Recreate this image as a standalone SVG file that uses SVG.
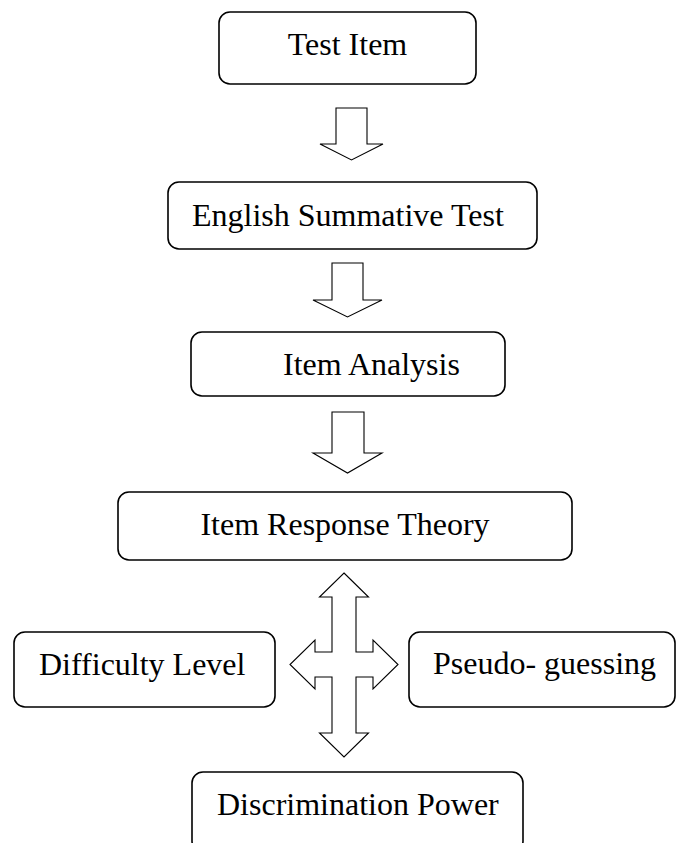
<svg xmlns="http://www.w3.org/2000/svg" width="676" height="843" viewBox="0 0 676 843">
<style>
.box{fill:#fff;stroke:#000;stroke-width:1.6}
.arr{fill:#fff;stroke:#000;stroke-width:1.1;stroke-linejoin:miter}
text{font-family:"Liberation Serif","Times New Roman",serif;font-size:32px;fill:#000}
</style>
<rect width="676" height="843" fill="#fff"/>
<g id="connectors">
<polygon class="arr" points="336,108 367,108 367,144 383,144 351.5,160 320,144 336,144"/>
<polygon class="arr" points="332,263 363,263 363,300 382,300 347.5,317 313,300 332,300"/>
<polygon class="arr" points="332,412 364,412 364,453 382,453 347.5,473 313,453 332,453"/>
<polygon class="arr" points="344,573 368.5,597 356,597 356,652 373,652 373,640 398,664.5 373,689 373,677 356,677 356,733 368.5,733 344,757 319.5,733 332,733 332,677 315,677 315,689 290,664.5 315,640 315,652 332,652 332,597 319.5,597"/>
</g>
<g id="test-item">
<rect class="box" x="219" y="12" width="257" height="72" rx="11"/>
<text x="347.5" y="55" text-anchor="middle">Test Item</text>
</g>
<g id="english-summative-test">
<rect class="box" x="168" y="182" width="369" height="67" rx="11"/>
<text x="192" y="226">English Summative Test</text>
</g>
<g id="item-analysis">
<rect class="box" x="191" y="332" width="314" height="64" rx="11"/>
<text x="283" y="375">Item Analysis</text>
</g>
<g id="item-response-theory">
<rect class="box" x="118" y="492" width="454" height="68" rx="11"/>
<text x="345" y="535" text-anchor="middle">Item Response Theory</text>
</g>
<g id="difficulty-level">
<rect class="box" x="14" y="632" width="261" height="75" rx="11"/>
<text x="39" y="675">Difficulty Level</text>
</g>
<g id="pseudo-guessing">
<rect class="box" x="409" y="632" width="266" height="75" rx="11"/>
<text x="433" y="674">Pseudo- guessing</text>
</g>
<g id="discrimination-power">
<rect class="box" x="192" y="772" width="331" height="80" rx="11"/>
<text x="217" y="815">Discrimination Power</text>
</g>
</svg>
